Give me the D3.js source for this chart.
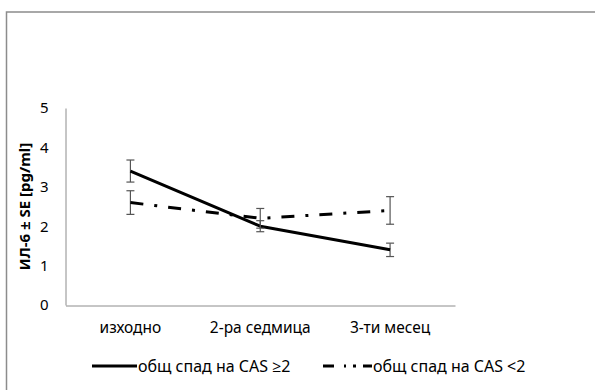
<!DOCTYPE html>
<html><head><meta charset="utf-8">
<script src="https://cdn.jsdelivr.net/npm/d3@7"></script>
<style>body{margin:0;background:#fff}svg{display:block}text{font-family:"Noto Sans","Open Sans",sans-serif;fill:#000}</style>
</head><body><svg id="c" width="595" height="390"></svg>
<script>
const categories = ["изходно", "2-ра седмица", "3-ти месец"];
const seriesNames = ["общ спад на CAS ≥2", "общ спад на CAS <2"];
const valuesHigh = [3.4, 2.0, 1.4];
const errorsHigh = [0.28, 0.14, 0.17];
const valuesLow = [2.6, 2.2, 2.4];
const errorsLow = [0.3, 0.25, 0.35];
const yTicks = [0, 1, 2, 3, 4, 5];
const yLabel = "ИЛ-6 ± SE [pg/ml]";

const svg = d3.select("#c");
// outer frame
svg.append("rect").attr("x", 6.5).attr("y", 12).attr("width", 620).attr("height", 400)
  .attr("fill", "none").attr("stroke", "#8c8c8c").attr("stroke-width", 1.5);

const x = d3.scaleBand().domain(categories).range([65.5, 455]);
const y = d3.scaleLinear().domain([0, 5]).range([305, 108]);

// axes
const gy = svg.append("g").attr("transform", "translate(65.5,0)")
  .call(d3.axisLeft(y).tickValues(yTicks).tickFormat(d3.format("d")).tickSize(0).tickPadding(17));
gy.select(".domain").attr("stroke", "#8c8c8c");
gy.selectAll("text").style("font-size", "15px").attr("fill", "#000");

const gx = svg.append("g").attr("transform", "translate(0,305.5)")
  .call(d3.axisBottom(x).tickSize(0).tickPadding(16));
gx.select(".domain").attr("stroke", "#8c8c8c");
gx.selectAll("text").style("font-size", "15.5px").attr("fill", "#000");

svg.append("text").attr("transform", "translate(30," + (y(2.5)) + ") rotate(-90)")
  .attr("text-anchor", "middle").style("font-size", "15px").style("font-weight", "bold").text(yLabel);

const series = [
  {vals: valuesHigh, errs: errorsHigh, dash: null},
  {vals: valuesLow, errs: errorsLow, dash: "13,11,3,11"}
];
const line = d3.line().x((d, i) => x(categories[i]) + x.bandwidth() / 2).y(d => y(d));

series.forEach(s => {
  const g = svg.append("g");
  s.vals.forEach((v, i) => {
    const cx = x(categories[i]) + x.bandwidth() / 2;
    const y1 = y(v + s.errs[i]), y2 = y(v - s.errs[i]);
    g.append("line").attr("x1", cx).attr("x2", cx).attr("y1", y1).attr("y2", y2).attr("stroke", "#555").attr("stroke-width", 1.2);
    [y1, y2].forEach(yy => g.append("line").attr("x1", cx - 4).attr("x2", cx + 4).attr("y1", yy).attr("y2", yy).attr("stroke", "#555").attr("stroke-width", 1.2));
  });
  g.append("path").datum(s.vals).attr("d", line).attr("fill", "none").attr("stroke", "#000")
    .attr("stroke-width", 3).attr("stroke-linejoin", "round").attr("stroke-dasharray", s.dash);
});

// legend
const leg = [{x1: 92, x2: 137, dash: null, tx: 138}, {x1: 323, x2: 372, dash: "11,10,2,7,3,7,10", tx: 373}];
leg.forEach((l, i) => {
  svg.append("line").attr("x1", l.x1).attr("x2", l.x2).attr("y1", 366).attr("y2", 366)
    .attr("stroke", "#000").attr("stroke-width", 3).attr("stroke-dasharray", l.dash);
  svg.append("text").attr("x", l.tx).attr("y", 371.5).style("font-size", "16px").text(seriesNames[i]);
});
</script></body></html>
